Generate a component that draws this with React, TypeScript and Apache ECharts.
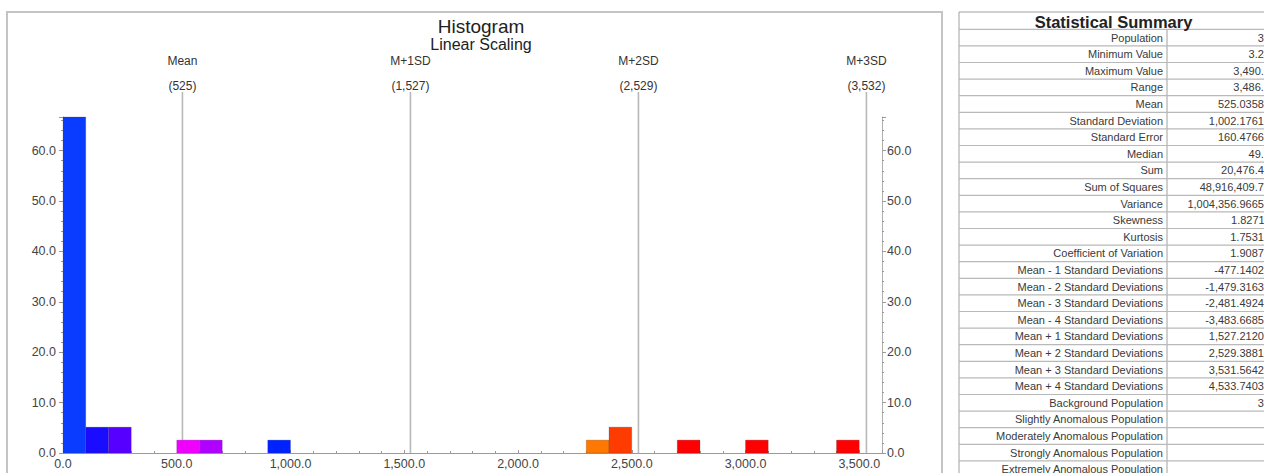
import React, { useEffect, useRef } from "react";
import * as echarts from "echarts";

// Histogram bins (lower edge, upper edge, percent of population)
const binStarts = [0, 100, 200, 500, 600, 900, 2300, 2400, 2700, 3000, 3400];
const binEnds = [100, 200, 300, 600, 700, 1000, 2400, 2500, 2800, 3100, 3500];
const binPercents = [66.67, 5.13, 5.13, 2.56, 2.56, 2.56, 2.56, 5.13, 2.56, 2.56, 2.56];
const binColors = [
  "#0a3cff", "#1a0cff", "#5600ff", "#f000ff", "#b000ff", "#0022ff",
  "#ff7800", "#ff3c00", "#ff0000", "#ff0000", "#ff0000",
];

// Mean / standard deviation markers
const sdValues = [525.036, 1527.212, 2529.388, 3531.564];
const sdNames = ["Mean", "M+1SD", "M+2SD", "M+3SD"];
const sdTexts = ["(525)", "(1,527)", "(2,529)", "(3,532)"];

// Axes
const xMin = 0;
const xMax = 3600;
const xInterval = 500;
const yMin = 0;
const yMax = 66.67;
const yInterval = 10;

// Statistical summary table
const statTitle = "Statistical Summary";
const statLabels = [
  "Population", "Minimum Value", "Maximum Value", "Range", "Mean",
  "Standard Deviation", "Standard Error", "Median", "Sum", "Sum of Squares",
  "Variance", "Skewness", "Kurtosis", "Coefficient of Variation",
  "Mean - 1 Standard Deviations", "Mean - 2 Standard Deviations",
  "Mean - 3 Standard Deviations", "Mean - 4 Standard Deviations",
  "Mean + 1 Standard Deviations", "Mean + 2 Standard Deviations",
  "Mean + 3 Standard Deviations", "Mean + 4 Standard Deviations",
  "Background Population", "Slightly Anomalous Population",
  "Moderately Anomalous Population", "Strongly Anomalous Population",
  "Extremely Anomalous Population",
];
const statValues = [
  "39", "3.24", "3,490.0", "3,486.8", "525.03589",
  "1,002.17612", "160.47665", "49.2", "20,476.40", "48,916,409.75",
  "1,004,356.96653", "1.82711", "1.75319", "1.90878",
  "-477.14023", "-1,479.31635", "-2,481.49247", "-3,483.66859",
  "1,527.21201", "2,529.38813", "3,531.56425", "4,533.74037",
  "33", "3", "3", "0", "0",
];

const FONT = "Arial, 'Liberation Sans', sans-serif";

export default function App() {
  const ref = useRef<HTMLDivElement>(null);

  useEffect(() => {
    if (!ref.current) return;
    const chart = echarts.init(ref.current, undefined, { renderer: "svg" });

    // table graphics
    const tLeft = 959;
    const tMid = 1167;
    const tRight = 1290;
    const tTop = 12;
    const headBottom = 29.3;
    const rowH = 16.6;
    const tBottom = headBottom + rowH * statLabels.length;
    const gridColor = "#b9b9b9";
    const tableEls: any[] = [];
    tableEls.push({
      type: "rect",
      shape: { x: tLeft, y: tTop, width: tRight - tLeft, height: tBottom - tTop },
      style: { fill: "#ffffff", stroke: "#a0a0a0", lineWidth: 1 },
      z: 1,
    });
    tableEls.push({
      type: "text",
      x: (tLeft + 1268) / 2,
      y: (tTop + headBottom) / 2 + 1,
      style: {
        text: statTitle,
        font: `bold 16.5px ${FONT}`,
        fill: "#222",
        align: "center",
        verticalAlign: "middle",
        textAlign: "center",
        textVerticalAlign: "middle",
      },
      z: 3,
    });
    tableEls.push({
      type: "line",
      shape: { x1: tMid, y1: headBottom, x2: tMid, y2: tBottom },
      style: { stroke: "#a0a0a0", lineWidth: 1 },
      z: 2,
    });
    for (let i = 0; i <= statLabels.length; i++) {
      const y = headBottom + i * rowH;
      tableEls.push({
        type: "line",
        shape: { x1: tLeft, y1: y, x2: tRight, y2: y },
        style: { stroke: gridColor, lineWidth: 1.2 },
        z: 2,
      });
    }
    statLabels.forEach((lab, i) => {
      const cy = headBottom + i * rowH + rowH / 2;
      tableEls.push({
        type: "text",
        x: 1163,
        y: cy,
        style: {
          text: lab,
          font: `11px ${FONT}`,
          fill: "#3a3a3a",
          align: "right",
          verticalAlign: "middle",
          textAlign: "right",
          textVerticalAlign: "middle",
        },
        z: 3,
      });
      tableEls.push({
        type: "text",
        x: 1270,
        y: cy,
        style: {
          text: statValues[i],
          font: `11px ${FONT}`,
          fill: "#3a3a3a",
          align: "right",
          verticalAlign: "middle",
          textAlign: "right",
          textVerticalAlign: "middle",
        },
        z: 3,
      });
    });

    const axisLabelY = {
      color: "#444",
      fontSize: 12.5,
      fontFamily: FONT,
      formatter: (v: number) => v.toFixed(1),
      showMaxLabel: false,
    };

    chart.setOption({
      animation: false,
      backgroundColor: "#ffffff",
      title: {
        text: "Histogram",
        subtext: "Linear Scaling",
        left: 476,
        textAlign: "center",
        top: 12,
        itemGap: 0,
        textStyle: { fontSize: 19, fontWeight: "normal", color: "#222", fontFamily: FONT },
        subtextStyle: { fontSize: 16, color: "#222", fontFamily: FONT },
      },
      grid: { left: 63, right: 382, top: 117, bottom: 20, containLabel: false },
      xAxis: {
        type: "value",
        min: xMin,
        max: xMax,
        interval: xInterval,
        splitLine: { show: false },
        axisLine: { show: true, lineStyle: { color: "#9a9a9a", width: 1 } },
        axisTick: { show: true, inside: true, length: 3, lineStyle: { color: "#9a9a9a" } },
        minorTick: { show: true, splitNumber: 5, length: 2, lineStyle: { color: "#9a9a9a" } },
        axisLabel: {
          color: "#444",
          fontSize: 12.5,
          fontFamily: FONT,
          margin: 4,
          showMaxLabel: false,
          formatter: (v: number) =>
            v.toLocaleString("en-US", { minimumFractionDigits: 1, maximumFractionDigits: 1 }),
        },
      },
      yAxis: [
        {
          type: "value",
          position: "left",
          min: yMin,
          max: yMax,
          interval: yInterval,
          splitLine: { show: false },
          axisLine: { show: true, lineStyle: { color: "#b0b0b0", width: 1 } },
          axisTick: { show: true, length: 4, lineStyle: { color: "#9a9a9a" } },
          minorTick: { show: true, splitNumber: 5, length: 2, lineStyle: { color: "#9a9a9a" } },
          axisLabel: { ...axisLabelY, margin: 7 },
        },
        {
          type: "value",
          position: "right",
          min: yMin,
          max: yMax,
          interval: yInterval,
          splitLine: { show: false },
          axisLine: { show: true, lineStyle: { color: "#b0b0b0", width: 1 } },
          axisTick: { show: true, length: 4, lineStyle: { color: "#9a9a9a" } },
          minorTick: { show: true, splitNumber: 5, length: 2, lineStyle: { color: "#9a9a9a" } },
          axisLabel: { ...axisLabelY, margin: 5 },
        },
      ],
      series: [
        {
          type: "custom",
          name: "sd",
          clip: false,
          z: 1,
          data: sdValues.map((v) => [v, 0]),
          encode: { x: 0, y: 1 },
          renderItem: (params: any, api: any) => {
            const i = params.dataIndex;
            const x = api.value(0);
            const pb = api.coord([x, yMin]);
            const top = api.coord([x, yMax])[1];
            return {
              type: "group",
              children: [
                {
                  type: "line",
                  shape: { x1: pb[0], y1: pb[1], x2: pb[0], y2: top - 25 },
                  style: { stroke: "#b8b8b8", lineWidth: 1.6 },
                },
                {
                  type: "text",
                  x: pb[0],
                  y: top - 56,
                  style: {
                    text: sdNames[i],
                    font: `12px ${FONT}`,
                    fill: "#333",
                    align: "center",
                    verticalAlign: "middle",
                    textAlign: "center",
                    textVerticalAlign: "middle",
                  },
                },
                {
                  type: "text",
                  x: pb[0],
                  y: top - 31,
                  style: {
                    text: sdTexts[i],
                    font: `12px ${FONT}`,
                    fill: "#333",
                    align: "center",
                    verticalAlign: "middle",
                    textAlign: "center",
                    textVerticalAlign: "middle",
                  },
                },
              ],
            };
          },
        },
        {
          type: "custom",
          name: "bins",
          z: 2,
          data: binStarts.map((s, i) => [s, binEnds[i], binPercents[i]]),
          encode: { x: [0, 1], y: 2 },
          renderItem: (params: any, api: any) => {
            const i = params.dataIndex;
            const p0 = api.coord([api.value(0), api.value(2)]);
            const p1 = api.coord([api.value(1), yMin]);
            return {
              type: "rect",
              shape: { x: p0[0], y: p0[1], width: p1[0] - p0[0], height: p1[1] - p0[1] },
              style: { fill: binColors[i], stroke: "rgba(60,60,90,0.35)", lineWidth: 0.6 },
            };
          },
        },
      ],
      graphic: [
        {
          type: "rect",
          shape: { x: 7, y: 12, width: 935, height: 475 },
          style: { fill: "none", stroke: "#c4c4c4", lineWidth: 2 },
          z: -1,
          silent: true,
        },
        ...tableEls,
      ],
    });

    return () => chart.dispose();
  }, []);

  return (
    <div
      ref={ref}
      style={{ position: "absolute", left: 0, top: 0, width: 1264, height: 473, overflow: "hidden" }}
    />
  );
}
